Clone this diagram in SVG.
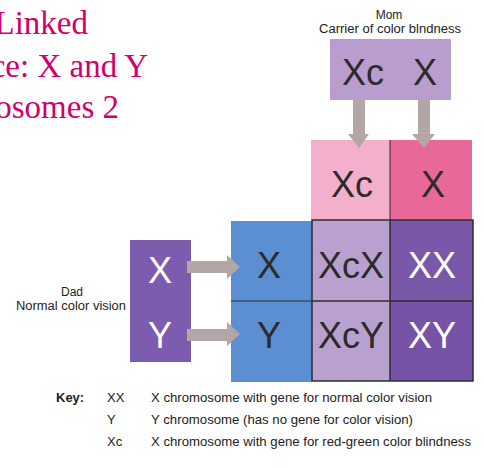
<svg xmlns="http://www.w3.org/2000/svg" width="484" height="468" viewBox="0 0 484 468">
<style>
.t{font-family:"Liberation Serif",serif;font-size:33px;fill:#d1006c}
.s{font-family:"Liberation Sans",Arial,sans-serif;fill:#222}
.lab{font-size:12px;text-anchor:middle}
.big{font-size:36px;text-anchor:middle;fill:#2b2b2b}
.w{fill:#fff}
.key{font-size:13px}
.arr{fill:#b3a6a6}
.grid{fill:none;stroke:#2d2d33;stroke-width:1.5}
</style>
<rect width="484" height="468" fill="#fff"/>
<g id="title">
<text class="t" x="88" y="34" text-anchor="end">Linked</text>
<text class="t" x="148" y="77" text-anchor="end">ce: X and Y</text>
<text class="t" x="119" y="118" text-anchor="end">osomes 2</text>
</g>
<g id="mom">
<text class="s lab" x="389" y="19">Mom</text>
<text class="s lab" x="390" y="33" textLength="142" lengthAdjust="spacingAndGlyphs">Carrier of color blndness</text>
<rect x="330" y="39" width="121" height="61" fill="#b89dce"/>
<text class="s big" x="363" y="85">Xc</text>
<text class="s big" x="425" y="85">X</text>
</g>
<g id="dad">
<text class="s lab" x="72" y="296">Dad</text>
<text class="s lab" x="71" y="310" textLength="110" lengthAdjust="spacingAndGlyphs">Normal color vision</text>
<rect x="130" y="240" width="61" height="122" fill="#7c5cae"/>
<text class="s big w" x="160" y="283">X</text>
<text class="s big w" x="160" y="348">Y</text>
</g>
<g id="mom-gametes">
<rect x="311" y="140" width="79" height="80" fill="#f3afcb"/>
<rect x="390" y="140" width="82" height="80" fill="#e9689a"/>
<line x1="390" y1="140" x2="390" y2="220" stroke="#2d2d33" stroke-width="1"/>
<text class="s big" x="352" y="197">Xc</text>
<text class="s big" x="433" y="197">X</text>
</g>
<g id="dad-gametes">
<rect x="231" y="221" width="81" height="161" fill="#5b8fd1"/>
<line x1="231" y1="301" x2="312" y2="301" stroke="#2d2d33" stroke-width="1"/>
<text class="s big" x="269" y="278">X</text>
<text class="s big" x="269" y="348">Y</text>
</g>
<g id="offspring">
<rect x="312" y="220" width="78" height="81" fill="#b9a1cf"/>
<rect x="390" y="220" width="83" height="81" fill="#7a58a9"/>
<rect x="312" y="301" width="78" height="80" fill="#b8a0cf"/>
<rect x="390" y="301" width="83" height="80" fill="#7653a6"/>
<rect class="grid" x="312" y="220" width="161" height="161"/>
<line class="grid" x1="390" y1="220" x2="390" y2="381"/>
<line class="grid" x1="312" y1="301" x2="473" y2="301"/>
<text class="s big" x="351" y="278">XcX</text>
<text class="s big w" x="432" y="278">XX</text>
<text class="s big" x="351" y="348">XcY</text>
<text class="s big w" x="432" y="348">XY</text>
</g>
<g id="connectors">
<polygon class="arr" points="353,100 365,100 365,134 369,134 359,148 348,134 353,134"/>
<polygon class="arr" points="418,100 430,100 430,134 435,134 424,148 412,134 418,134"/>
<polygon class="arr" points="187,261 227,261 227,255 240,267 227,279 227,273 187,273"/>
<polygon class="arr" points="187,329 227,329 227,322 240,334 227,346 227,341 187,341"/>
</g>
<g id="key">
<text class="s key" x="56" y="402" font-weight="bold">Key:</text>
<text class="s key" x="107" y="402">XX</text>
<text class="s key" x="151" y="402" textLength="281" lengthAdjust="spacingAndGlyphs">X chromosome with gene for normal color vision</text>
<text class="s key" x="107" y="424">Y</text>
<text class="s key" x="151" y="424" textLength="262" lengthAdjust="spacingAndGlyphs">Y chromosome (has no gene for color vision)</text>
<text class="s key" x="107" y="446">Xc</text>
<text class="s key" x="151" y="446" textLength="320" lengthAdjust="spacingAndGlyphs">X chromosome with gene for red-green color blindness</text>
</g>
</svg>
